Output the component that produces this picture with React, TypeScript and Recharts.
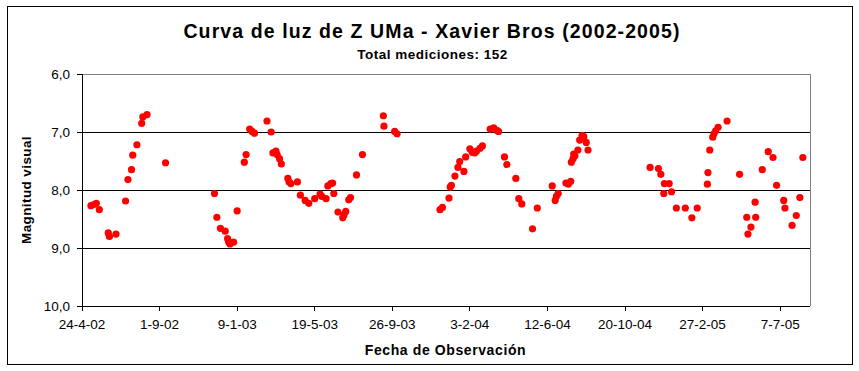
import {
  ReferenceLine,
  Scatter,
  ScatterChart,
  XAxis,
  YAxis,
} from "recharts";

// días desde el 24-4-2002 y magnitud visual estimada de cada medición
const dias = [
  15, 20, 24, 29, 44, 46, 57, 73, 77, 83, 85, 92, 100, 102, 109, 140,
  222, 226, 232, 240, 244, 246, 248, 254, 260, 272, 275, 281, 285, 289,
  310, 317, 320, 325, 327, 331, 334, 345, 347, 350, 361, 366, 374, 380,
  390, 399, 402, 409, 412, 417, 420, 422, 429, 437, 439, 442, 447, 450,
  460, 470, 505, 506, 524, 528, 600, 604, 615, 617, 619, 625, 630, 633,
  640, 643, 650, 654, 658, 661, 667, 671, 684, 690, 695, 698, 708, 712,
  727, 732, 737, 755, 763, 788, 793, 795, 798, 811, 815, 819, 820, 823,
  824, 826, 831, 834, 838, 841, 845, 848, 952, 966, 970, 976, 984, 975,
  988, 996, 1011, 1031, 1022, 1048, 1049, 1052, 1057, 1059, 1062, 1066,
  1081, 1102, 1114, 1121, 1116, 1128, 1129, 1140, 1150, 1158, 1164, 1176,
  1178, 1190, 1197, 1203, 1208,
];

const magnitudes = [
  8.27, 8.25, 8.23, 8.34, 8.74, 8.8, 8.76, 8.19, 7.82, 7.65, 7.4, 7.22, 6.85, 6.74, 6.7, 7.53,
  8.06, 8.47, 8.66, 8.71, 8.84, 8.9, 8.93, 8.9, 8.36, 7.52, 7.39, 6.95, 6.99, 7.02,
  6.81, 7.0, 7.36, 7.33, 7.39, 7.46, 7.55, 7.8, 7.86, 7.89, 7.86, 8.09, 8.18, 8.23,
  8.15, 8.07, 8.11, 8.15, 7.93, 7.89, 7.88, 8.06, 8.38, 8.48, 8.43, 8.37, 8.17, 8.13,
  7.74, 7.39, 6.72, 6.9, 6.99, 7.03, 8.34, 8.3, 8.14, 7.95, 7.92, 7.76, 7.61, 7.51,
  7.68, 7.43, 7.29, 7.35, 7.36, 7.33, 7.28, 7.24, 6.95, 6.93, 6.97, 6.99, 7.43, 7.56,
  7.8, 8.15, 8.24, 8.67, 8.31, 7.93, 8.18, 8.11, 8.06, 7.88, 7.9, 7.85, 7.52, 7.46,
  7.38, 7.41, 7.31, 7.14, 7.06, 7.08, 7.18, 7.31, 7.61, 7.63, 7.73, 7.89, 7.89, 8.06,
  8.03, 8.31, 8.31, 8.31, 8.48, 7.9, 7.7, 7.31, 7.09, 7.03, 6.98, 6.92,
  6.81, 7.73, 8.47, 8.64, 8.76, 8.21, 8.47, 7.65, 7.34, 7.44, 7.92, 8.18,
  8.31, 8.61, 8.44, 8.13, 7.44,
];

const diasEje = [0, 130, 260, 390, 520, 650, 780, 910, 1040, 1170];
const fechasEje = [
  "24-4-02", "1-9-02", "9-1-03", "19-5-03", "26-9-03",
  "3-2-04", "12-6-04", "20-10-04", "27-2-05", "7-7-05",
];
const magnitudesEje = [6, 7, 8, 9, 10];

const data = dias.map((dia, i) => ({ dia, mag: magnitudes[i] }));

const FONT = '"Liberation Sans", Arial, sans-serif';
const tickStyle = { fontSize: 13.5, fill: "#000", fontFamily: FONT };
const linea = { stroke: "#000", shapeRendering: "crispEdges" } as any;

const Punto = (props: any) => (
  <circle cx={props.cx} cy={props.cy} r={3.6} fill="#FF0000" />
);

export default function App() {
  return (
    <div
      style={{
        position: "relative",
        width: 859,
        height: 371,
        background: "#fff",
        fontFamily: FONT,
        color: "#000",
      }}
    >
      <style>{"body { margin: 0; }"}</style>
      <ScatterChart
        width={859}
        height={371}
        margin={{ top: 74, right: 49, bottom: 0, left: 0 }}
        style={{ position: "absolute", left: 0, top: 0 }}
      >
        <XAxis
          type="number"
          dataKey="dia"
          domain={[0, 1220]}
          ticks={diasEje}
          tickFormatter={(v: number) => fechasEje[diasEje.indexOf(v)] ?? ""}
          height={65}
          tickSize={5}
          tickMargin={8}
          tick={tickStyle}
          axisLine={linea}
          tickLine={linea}
          interval={0}
          allowDataOverflow
        />
        <YAxis
          type="number"
          dataKey="mag"
          reversed
          domain={[6, 10]}
          ticks={magnitudesEje}
          tickFormatter={(v: number) => v.toFixed(1).replace(".", ",")}
          width={82}
          tickSize={5}
          tickMargin={7}
          tick={tickStyle}
          axisLine={linea}
          tickLine={linea}
          interval={0}
          allowDataOverflow
        />
        <ReferenceLine y={6} stroke="#808080" shapeRendering="crispEdges" />
        <ReferenceLine x={1220} stroke="#808080" shapeRendering="crispEdges" />
        <ReferenceLine y={7} stroke="#000" shapeRendering="crispEdges" />
        <ReferenceLine y={8} stroke="#000" shapeRendering="crispEdges" />
        <ReferenceLine y={9} stroke="#000" shapeRendering="crispEdges" />
        <Scatter data={data} shape={Punto} isAnimationActive={false} />
      </ScatterChart>
      <div
        style={{
          position: "absolute",
          left: 7,
          top: 6,
          width: 846,
          height: 359,
          boxSizing: "border-box",
          border: "1px solid #000",
          pointerEvents: "none",
        }}
      />
      <div
        style={{
          position: "absolute",
          left: 0,
          width: 864,
          top: 20,
          fontSize: 19.5,
          lineHeight: "22px",
          letterSpacing: 1.1,
          fontWeight: "bold",
          textAlign: "center",
        }}
      >
        Curva de luz de Z UMa - Xavier Bros (2002-2005)
      </div>
      <div
        style={{
          position: "absolute",
          left: 0,
          width: 865,
          top: 47,
          fontSize: 13.5,
          lineHeight: "16px",
          letterSpacing: 0.5,
          fontWeight: "bold",
          textAlign: "center",
        }}
      >
        Total mediciones: 152
      </div>
      <div
        style={{
          position: "absolute",
          left: 0,
          width: 891,
          top: 342,
          fontSize: 14,
          lineHeight: "17px",
          letterSpacing: 0.6,
          fontWeight: "bold",
          textAlign: "center",
        }}
      >
        Fecha de Observación
      </div>
      <div
        style={{
          position: "absolute",
          left: 27 - 100,
          top: 190 - 8,
          width: 200,
          fontSize: 13.5,
          lineHeight: "16px",
          letterSpacing: 0.4,
          fontWeight: "bold",
          textAlign: "center",
          transform: "rotate(-90deg)",
        }}
      >
        Magnitud visual
      </div>
    </div>
  );
}
